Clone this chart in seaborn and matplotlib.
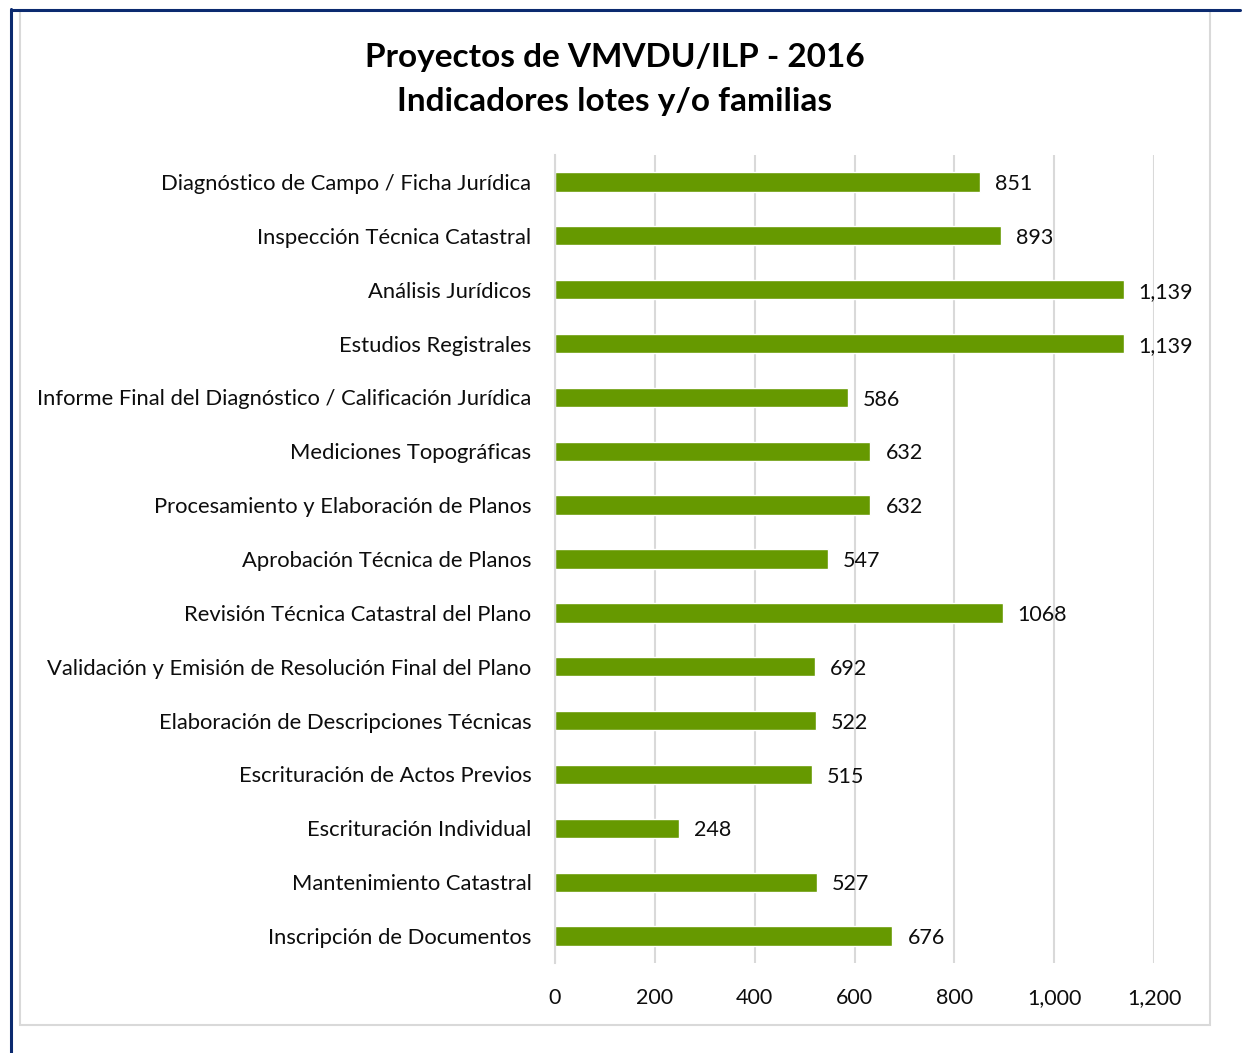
import numpy as np
import pandas as pd
import seaborn as sns
import matplotlib.pyplot as plt
from matplotlib.patches import Rectangle
from matplotlib.lines import Line2D

categories = [
    "Diagnóstico de Campo / Ficha Jurídica",
    "Inspección Técnica Catastral",
    "Análisis Jurídicos",
    "Estudios Registrales",
    "Informe Final del Diagnóstico / Calificación Jurídica",
    "Mediciones Topográficas",
    "Procesamiento y Elaboración de Planos",
    "Aprobación Técnica de Planos",
    "Revisión Técnica Catastral del Plano",
    "Validación y Emisión de Resolución Final del Plano",
    "Elaboración de Descripciones Técnicas",
    "Escrituración de Actos Previos",
    "Escrituración Individual",
    "Mantenimiento Catastral",
    "Inscripción de Documentos",
]
# bar lengths as drawn in the picture
values = [851, 893, 1139, 1139, 586, 632, 632, 547, 897, 521, 522, 515, 248, 524, 676]
# data labels as printed in the picture
value_labels = ["851", "893", "1,139", "1,139", "586", "632", "632", "547", "1068",
                "692", "522", "515", "248", "527", "676"]
x_ticks = [0, 200, 400, 600, 800, 1000, 1200]
x_ticklabels = ["0", "200", "400", "600", "800", "1,000", "1,200"]

sns.set_style("white")
plt.rcParams['font.family'] = ['Lato', 'DejaVu Sans']
txt = "#0d0d0d"

df = pd.DataFrame({"cat": categories, "val": values})

fig = plt.figure(figsize=(12.44, 10.53), dpi=100)

# outer frame lines
fig.add_artist(Line2D([11 / 1244, 11 / 1244], [0, 1 - 9 / 1053], color="#0b2a6f", lw=2.2))
fig.add_artist(Line2D([11 / 1244, 1240 / 1244], [1 - 9.5 / 1053, 1 - 9.5 / 1053], color="#0b2a6f", lw=2.2))
fig.add_artist(Rectangle((20 / 1244, 1 - 1025 / 1053), 1190 / 1244, 1015 / 1053,
                         transform=fig.transFigure, fill=False, ec="#d9d9d9", lw=1.5))

ax = fig.add_axes([555 / 1244, 90 / 1053, 599 / 1244, 808 / 1053])
sns.barplot(data=df, x="val", y="cat", color="#669900", width=0.36, saturation=1, ax=ax)

ax.set_xlim(0, 1200)
ax.set_ylim(14.5, -0.5)
ax.set_xticks(x_ticks)
ax.set_xticklabels(x_ticklabels, fontsize=15.5, color=txt)
ax.tick_params(axis="y", labelsize=15.8, length=0, pad=17, labelcolor=txt)
ax.tick_params(axis="x", length=0, pad=18)
ax.grid(axis="x", color="#d9d9d9", lw=1.5)
ax.set_axisbelow(True)
for s in ["top", "right", "bottom"]:
    ax.spines[s].set_visible(False)
ax.spines["left"].set_color("#d9d9d9")
ax.spines["left"].set_linewidth(1.5)
ax.set_xlabel("")
ax.set_ylabel("")

for i, (v, lab) in enumerate(zip(values, value_labels)):
    ax.text(v + 30, i + 0.04, lab, va="center", ha="left", fontsize=15.5, color=txt)

fig.text(615 / 1244, 1 - 57 / 1053, "Proyectos de VMVDU/ILP - 2016", ha="center", va="center",
         fontsize=24, fontweight="bold", color="black")
fig.text(615 / 1244, 1 - 102 / 1053, "Indicadores lotes y/o familias", ha="center", va="center",
         fontsize=24, fontweight="bold", color="black")

fig.savefig("out.png", dpi=100)
